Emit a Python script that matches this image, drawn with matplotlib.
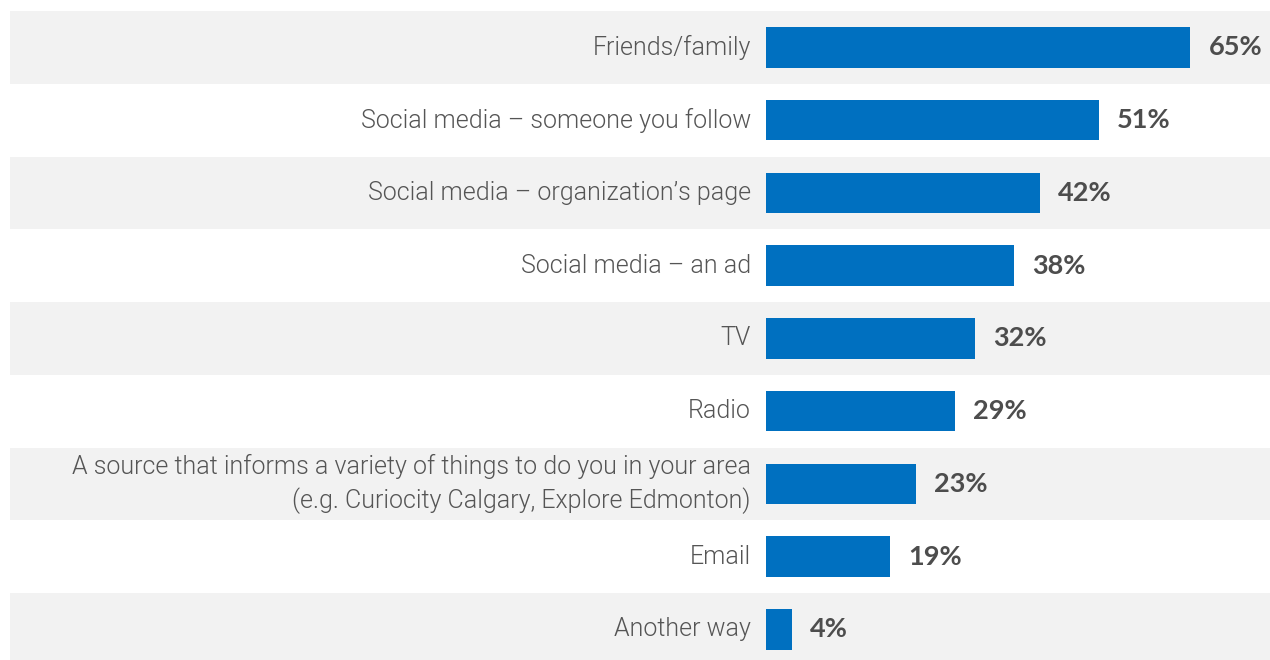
import matplotlib.pyplot as plt

categories = [
    "Friends/family",
    "Social media \u2013 someone you follow",
    "Social media \u2013 organization\u2019s page",
    "Social media \u2013 an ad",
    "TV",
    "Radio",
    "A source that informs a variety of things to do you in your area\n(e.g. Curiocity Calgary, Explore Edmonton)",
    "Email",
    "Another way",
]
values = [65, 51, 42, 38, 32, 29, 23, 19, 4]

BAR_COLOR = "#0070c0"
BAND_COLOR = "#f2f2f2"
LABEL_COLOR = "#555555"
VALUE_COLOR = "#4d4d4d"

W, H = 1270, 660
fig = plt.figure(figsize=(W / 100, H / 100), dpi=100)

# axes spans the banded area; x=0 is where the bars begin
left_px, right_px, top_px, row_px = 10, 1270, 11, 72.75
n = len(categories)
ax = fig.add_axes([left_px / W, 1 - (top_px + n * row_px) / H,
                   (right_px - left_px) / W, n * row_px / H])
px_per_pct = 6.53
x0 = 766
ax.set_xlim(-(x0 - left_px) / px_per_pct, (right_px - x0) / px_per_pct)
ax.set_ylim(n - 0.5, -0.5)
ax.axis("off")

for i in range(n):
    if i % 2 == 0:
        ax.axhspan(i - 0.5, i + 0.5, color=BAND_COLOR, lw=0, zorder=0)

ypos = list(range(n))
ax.barh(ypos, values, height=0.56, color=BAR_COLOR, zorder=2)

for y, label, v in zip(ypos, categories, values):
    ax.text(-15 / px_per_pct, y, label, ha="right", va="center",
            fontsize=18, family="Roboto", fontweight=300,
            color=LABEL_COLOR, linespacing=1.4, zorder=3)
    ax.text(v + 18 / px_per_pct, y, f"{v}%", ha="left", va="center",
            fontsize=19.5, family="Lato", fontweight="bold",
            color=VALUE_COLOR, zorder=3)

fig.savefig("out.png", dpi=100)
